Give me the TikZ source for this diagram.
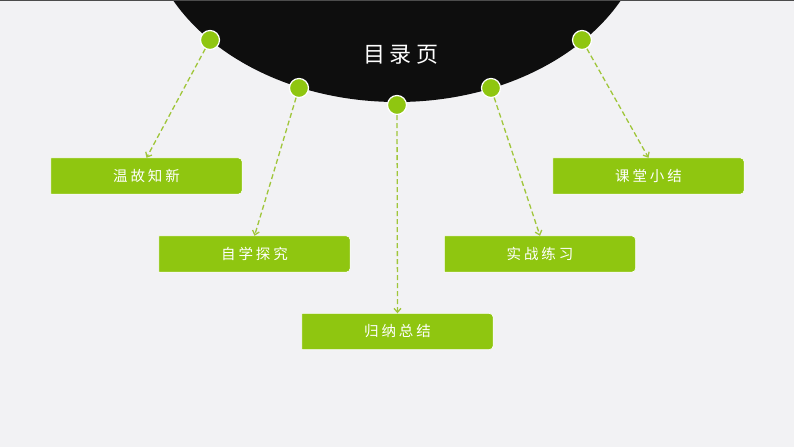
\documentclass[tikz,border=0pt]{standalone}
\usepackage{fontspec}
\newfontfamily\cjk[LetterSpace=20]{Noto Sans CJK SC}
\usetikzlibrary{arrows.meta,backgrounds}
\definecolor{bg}{HTML}{F2F2F4}
\definecolor{lime}{HTML}{8FC610}
\definecolor{dashc}{HTML}{A0C63A}
\definecolor{blk}{HTML}{0E0E0E}
\begin{document}
\begin{tikzpicture}[x=1pt,y=-1pt,
 dot/.style={circle,fill=lime,draw=white,line width=1.2pt,minimum size=19pt,inner sep=0pt},
 topic/.style={rectangle,minimum width=191pt,minimum height=36pt,text=white,font=\cjk\fontsize{14.5}{16}\selectfont,inner sep=0pt},
 topicbg/.style={fill=lime,draw=white,line width=0.6pt},
 link/.style={draw=dashc,dash pattern=on 5pt off 3pt,line width=1.3pt,-{Straight Barb[length=4pt,width=7pt]}}]
\useasboundingbox (0,0) rectangle (794,447);
\node[text=white,font=\cjk\fontsize{22}{24}\selectfont,inner sep=0pt] (title) at (401,55) {目录页};
\node[dot] (c1) at (210,40) {};
\node[dot] (c2) at (299,88) {};
\node[dot] (c3) at (397,105) {};
\node[dot] (c4) at (491,88) {};
\node[dot] (c5) at (582,40) {};
\node[topic] (b1) at (146.5,176) {温故知新};
\node[topic] (b2) at (254.5,254) {自学探究};
\node[topic] (b3) at (397.5,331.5) {归纳总结};
\node[topic] (b4) at (540,254) {实战练习};
\node[topic] (b5) at (648.5,176) {课堂小结};
\begin{scope}[on background layer]
\fill[bg] (0,0) rectangle (794,447);
\fill[black!70] (0,0) rectangle (794,1);
\begin{scope}
\clip (0,1) rectangle (794,447);
\fill[blk] (397,-86) ellipse [x radius=252, y radius=188];
\end{scope}
\foreach \b in {b1,b2,b3,b4,b5}{
  \path[topicbg] (\b.south west) -- (\b.north west) -- ([xshift=-4pt]\b.north east)
    arc[start angle=90,end angle=0,radius=4pt] -- ([yshift=4pt]\b.south east)
    arc[start angle=0,end angle=-90,radius=4pt] -- cycle;
}
\end{scope}
\draw[link] (c1) -- (b1.north);
\draw[link] (c2) -- (b2.north);
\draw[link] (c3) -- (b3.north);
\draw[link] (c4) -- (b4.north);
\draw[link] (c5) -- (b5.north);
\end{tikzpicture}
\end{document}
